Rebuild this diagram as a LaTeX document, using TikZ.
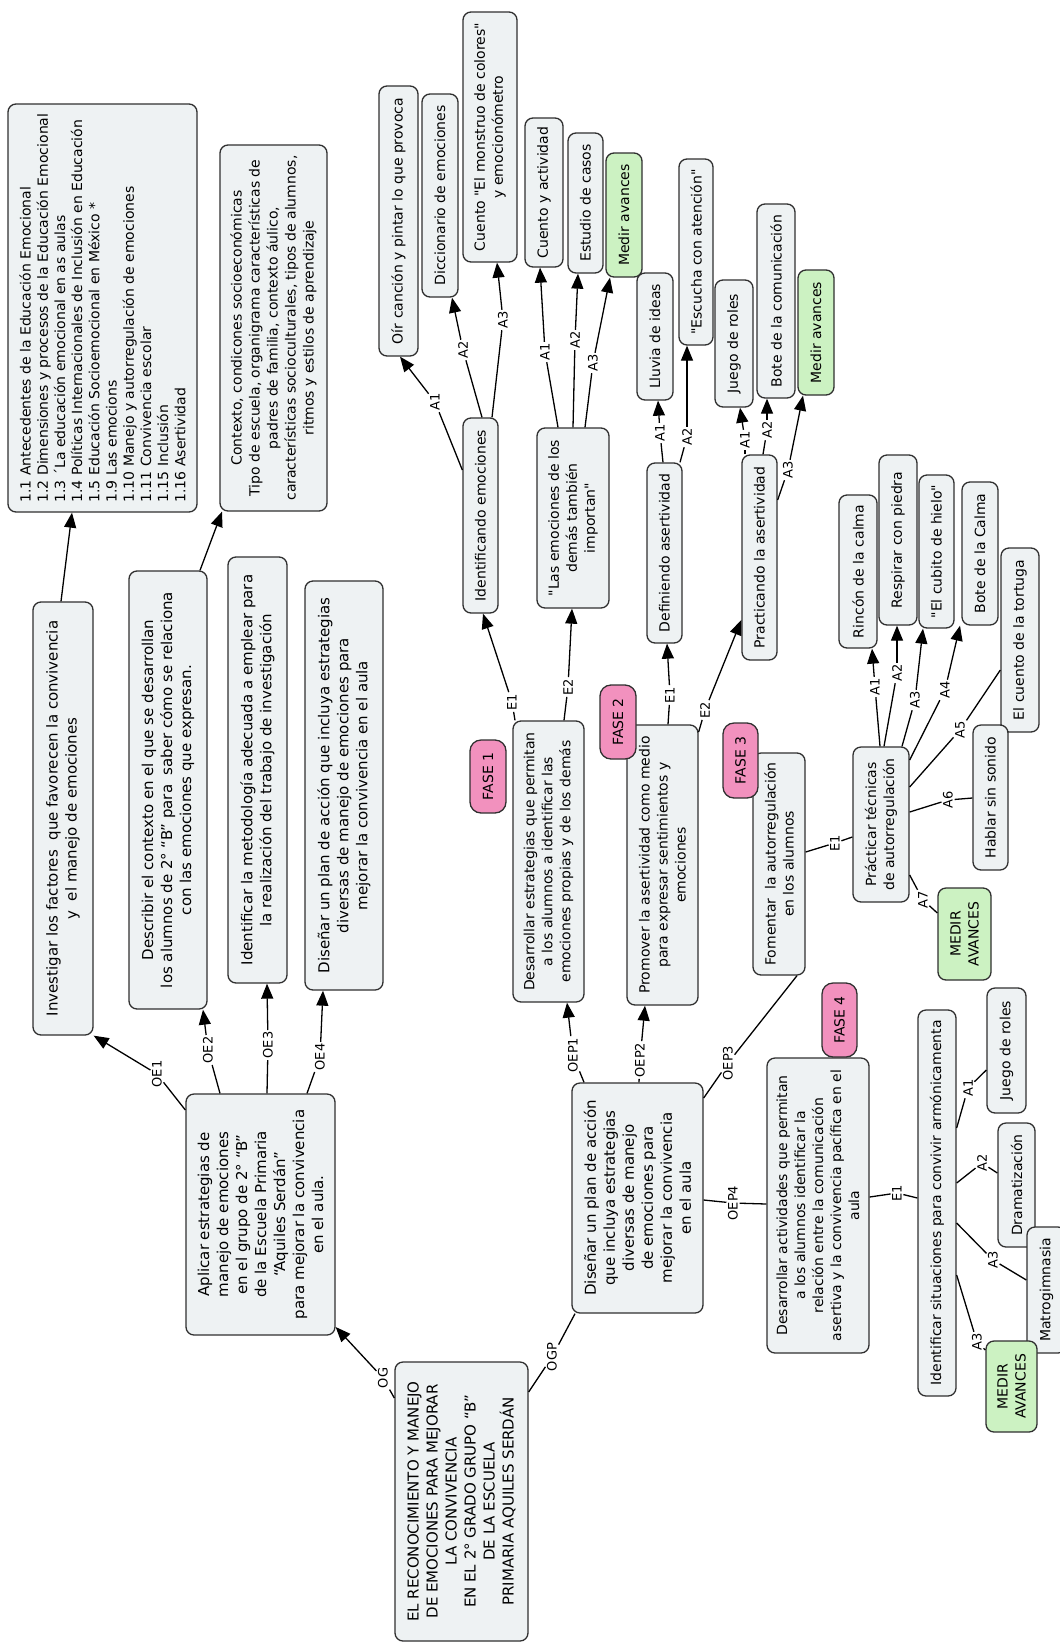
\documentclass[tikz,border=0pt]{standalone}
\usepackage{fontspec}
\setmainfont{DejaVu Sans}
\usetikzlibrary{arrows.meta}
\definecolor{cfill}{HTML}{EEF2F3}
\definecolor{mfill}{HTML}{CCF2C2}
\definecolor{ffill}{HTML}{F291BE}
\definecolor{cline}{HTML}{303030}
\newcommand{\qt}{\textquotedbl}
\begin{document}
\begin{tikzpicture}[x=1pt,y=-1pt,line width=1.3pt,
  concept/.style={draw=cline,fill=cfill,rounded corners=8pt,rotate=90,align=center,inner sep=2pt,font=\fontsize{14}{18}\selectfont},
  big/.style={font=\fontsize{15}{19}\selectfont},
  medir/.style={concept,fill=mfill},
  fase/.style={concept,fill=ffill,rounded corners=11pt},
  link/.style={rotate=90,fill=white,inner sep=1pt,font=\fontsize{13}{13}\selectfont},
  dims/.style 2 args={minimum width=#1pt,minimum height=#2pt},
  arr/.style={-{Triangle[length=15pt,width=12pt]}}]
\path[use as bounding box,fill=white] (0,0) rectangle (1060,1644);
\node[concept,big,dims={279}{133}] (cid0) at (461.5,1501.5) {EL RECONOCIMIENTO Y MANEJO\\DE EMOCIONES PARA MEJORAR\\LA CONVIVENCIA\\EN EL 2° GRADO GRUPO “B”\\DE LA ESCUELA\\PRIMARIA AQUILES SERDÁN};
\node[concept,big,dims={241}{149}] (cid1) at (260.5,1214.5) {Aplicar estrategias de\\manejo de emociones\\en el grupo de 2° “B”\\de la Escuela Primaria\\“Aquiles Serdán”\\para mejorar la convivencia\\en el aula.};
\node[link] (lid0) at (383,1378) {OG};
\draw[](cid0.north |- 0,1398) -- (lid0);
\draw[arr](lid0) -- (cid1.south |- 0,1327);
\node[concept,big,dims={433}{60}] (cid2) at (63,818.5) {Investigar los factores \ que favorecen la convivencia\\y \ el manejo de emociones};
\node[concept,big,dims={438}{78}] (cid3) at (168,790) {Describir el contexto en el que se desarrollan\\los alumnos de 2° “B” para \ saber cómo se relaciona\\con las emociones que expresan.};
\node[concept,big,dims={426}{59}] (cid4) at (257.5,770) {Identificar la metodología adecuada a emplear para\\la realización del trabajo de investigación};
\node[concept,big,dims={409}{78}] (cid5) at (344,785.5) {Diseñar un plan de acción que incluya estrategias\\diversas de manejo de emociones para\\mejorar la convivencia en el aula};
\node[link] (lid1) at (157,1074) {OE1};
\node[link] (lid2) at (208,1050) {OE2};
\node[link] (lid3) at (268,1045) {OE3};
\node[link] (lid4) at (320,1057) {OE4};
\draw[](cid1.north |- 0,1110) -- (lid1);
\draw[arr](lid1) -- (cid2.south west);
\draw[](cid1.east -| 220,0) -- (lid2);
\draw[arr](lid2) -- (cid3.west -| 203,0);
\draw[](cid1.east -| 267,0) -- (lid3);
\draw[arr](lid3) -- (cid4.west -| 267,0);
\draw[](cid1.east -| 307,0) -- (lid4);
\draw[arr](lid4) -- (cid5.west -| 323,0);
\node[concept,dims={408}{189},align=left,font=\fontsize{14}{17.2}\selectfont] (cid6) at (102.5,308) {1.1 Antecedentes de la Educación Emocional\\1.2 Dimensiones y procesos de la Educación Emocional\\1.3 ´La educación emocional en as aulas\\1.4 Políticas Internacionales de Inclusión en Educación\\1.5 Educación Socioemocional en México *\\1.9 Las emocions\\1.10 Manejo y autorregulación de emociones\\1.11 Convivencia escolar\\1.15 Inclusión\\1.16 Asertividad};
\node[concept,dims={366}{107}] (cid7) at (273.5,328) {Contexto, condicones socioeconómicas\\Tipo de escuela, organigrama características de\\padres de familia, contexto áulico,\\características socioculturales, tipos de alumnos,\\ritmos y estilos de aprendizaje};
\draw[arr](cid2.east -| 61,0) -- (cid6.west -| 72,0);
\draw[arr](cid3.east -| 200,0) -- (cid7.west -| 222,0);
\node[concept,big,dims={230}{131}] (cid8) at (637.5,1198) {Diseñar un plan de acción\\que incluya estrategias\\diversas de manejo\\de emociones para\\mejorar la convivencia\\en el aula};
\node[link] (lid5) at (552,1357) {OGP};
\draw[](cid0.south |- 0,1392) -- (lid5);
\draw[](lid5) -- (cid8.west -| 575,0);
\node[concept,dims={281}{71}] (cid9) at (548.5,861.5) {Desarrollar estrategias que permitan\\a los alumnos a identificar las\\emociones propias y de los demás};
\node[concept,dims={280}{71}] (cid10) at (662.5,865) {Promover la asertividad como medio\\para expresar sentimientos y\\emociones};
\node[concept,dims={222}{52}] (cid11) at (779,864) {Fomentar \ la autorregulación\\en los alumnos};
\node[concept,dims={295}{102}] (cid12) at (818,1205.5) {Desarrollar actividades que permitan\\a los alumnos identificar la\\relación entre la comunicación\\asertiva y la convivencia pacífica en el\\aula};
\node[link] (lid6) at (573,1055) {OEP1};
\node[link] (lid7) at (640,1060) {OEP2};
\node[link] (lid8) at (728,1063) {OEP3};
\node[link] (lid9) at (733,1203) {OEP4};
\draw[](cid8.east -| 584,0) -- (lid6);
\draw[arr](lid6) -- (cid9.west -| 567,0);
\draw[](cid8.east -| 639,0) -- (lid7);
\draw[arr](lid7) -- (cid10.west -| 645,0);
\draw[](cid8.south |- 0,1098) -- (lid8);
\draw[](lid8) -- (cid11.west -| 797,0);
\draw[](cid8.south |- 0,1200) -- (lid9);
\draw[](lid9) -- (cid12.north |- 0,1204);
\node[fase,dims={73}{36}] (fid1) at (488,776.5) {FASE 1};
\node[fase,dims={74}{36}] (fid2) at (618,722) {FASE 2};
\node[fase,dims={75}{35}] (fid3) at (740.5,760.5) {FASE 3};
\node[fase,dims={74}{35}] (fid4) at (839.5,1020) {FASE 4};
\node[concept,dims={195}{35}] (cid13) at (480.5,515.5) {Identificando emociones};
\node[concept,dims={180}{72}] (cid14) at (573,518) {\qt Las emociones de los\\demás también\\importan\qt};
\node[link] (lid10) at (512,702) {E1};
\node[link] (lid11) at (568,687) {E2};
\draw[](cid9.east -| 515,0) -- (lid10);
\draw[arr](lid10) -- (cid13.west -| 483,0);
\draw[](cid9.east -| 564,0) -- (lid11);
\draw[arr](lid11) -- (cid14.west -| 572,0);
\node[concept,dims={270}{39}] (cid15) at (398.5,221) {Oír canción y pintar lo que provoca};
\node[concept,dims={203}{36}] (cid16) at (440,195.5) {Diccionario de emociones};
\node[concept,dims={250}{54}] (cid17) at (490,137) {Cuento \qt El monstruo de colores\qt\\y emocionómetro};
\node[link] (lid12) at (435,402) {A1};
\node[link] (lid13) at (463,350) {A2};
\node[link] (lid14) at (503,320) {A3};
\draw[](cid13.north |- 0,470) -- (lid12);
\draw[arr](lid12) -- (cid15.west -| 400,0);
\draw[](cid13.east -| 482,0) -- (lid13);
\draw[arr](lid13) -- (cid16.west -| 452,0);
\draw[](cid13.east -| 492,0) -- (lid14);
\draw[arr](lid14) -- (cid17.west -| 497,0);
\node[concept,dims={149}{38}] (cid18) at (544,192.5) {Cuento y actividad};
\node[concept,dims={140}{35}] (cid19) at (585.5,203) {Estudio de casos};
\node[medir,dims={124}{36}] (cid20) at (624,215) {Medir avances};
\node[link] (lid15) at (545,352) {A1};
\node[link] (lid16) at (575,340) {A2};
\node[link] (lid17) at (593,363) {A3};
\draw[](cid14.east -| 558,0) -- (lid15);
\draw[arr](lid15) -- (cid18.west -| 540,0);
\draw[](cid14.east -| 573,0) -- (lid16);
\draw[arr](lid16) -- (cid19.west -| 578,0);
\draw[](cid14.east -| 585,0) -- (lid17);
\draw[arr](lid17) -- (cid20.west -| 610,0);
\node[concept,dims={180}{35}] (cid21) at (664.5,553) {Definiendo asertividad};
\node[concept,dims={205}{35}] (cid22) at (759.5,557.5) {Practicando la asertividad};
\node[link] (lid18) at (670,695) {E1};
\node[link] (lid19) at (705,710) {E2};
\draw[](cid10.east -| 668,0) -- (lid18);
\draw[arr](lid18) -- (cid21.west -| 667,0);
\draw[](cid10.south |- 0,732) -- (lid19);
\draw[arr](lid19) -- (cid22.north |- 0,620);
\node[concept,dims={127}{36}] (cid23) at (655,336.5) {Lluvia de ideas};
\node[concept,dims={186}{34}] (cid24) at (696,252) {\qt Escucha con atención\qt};
\node[link] (lid20) at (660,433) {A1};
\node[link] (lid21) at (687,437) {A2};
\draw[](cid21.east -| 663,0) -- (lid20);
\draw[arr](lid20) -- (cid23.west -| 658,0);
\draw[](cid21.east -| 680,0) -- (lid21);
\draw[arr](lid21) -- (cid24.west -| 687,0);
\node[concept,dims={127}{38}] (cid25) at (734,343.5) {Juego de roles};
\node[concept,dims={194}{38}] (cid26) at (776,301) {Bote de la comunicación};
\node[medir,dims={125}{36}] (cid27) at (816,332.5) {Medir avances};
\node[link] (lid22) at (745,440) {A1};
\node[link] (lid23) at (767,430) {A2};
\node[link] (lid24) at (788,470) {A3};
\draw[](cid22.east -| 745,0) -- (lid22);
\draw[arr](lid22) -- (cid25.west -| 740,0);
\draw[](cid22.east -| 763,0) -- (lid23);
\draw[arr](lid23) -- (cid26.west -| 767,0);
\draw[](cid22.south |- 0,500) -- (lid24);
\draw[arr](lid24) -- (cid27.west -| 803,0);
\node[concept,dims={155}{56}] (cid28) at (881,824.5) {Prácticar técnicas\\de autorregulación};
\node[link] (lid25) at (835,843) {E1};
\draw[](cid11.south |- 0,852) -- (lid25);
\draw[](lid25) -- (cid28.north |- 0,837);
\node[concept,dims={153}{38}] (cid29) at (858,571.5) {Rincón de la calma};
\node[concept,dims={170}{38}] (cid30) at (898,540) {Respirar con piedra};
\node[concept,dims={153}{35}] (cid31) at (936.5,551.5) {\qt El cubito de hielo\qt};
\node[concept,dims={143}{36}] (cid32) at (980,553.5) {Bote de la Calma};
\node[concept,dims={184}{38}] (cid33) at (1020,640) {El cuento de la tortuga};
\node[concept,dims={145}{35}] (cid34) at (990.5,797.5) {Hablar sin sonido};
\node[medir,dims={92}{53}] (cid35) at (964.5,934) {MEDIR\\AVANCES};
\node[link] (lid26) at (875,687) {A1};
\node[link] (lid27) at (897,673) {A2};
\node[link] (lid28) at (915,700) {A3};
\node[link] (lid29) at (945,690) {A4};
\node[link] (lid30) at (960,730) {A5};
\node[link] (lid31) at (948,800) {A6};
\node[link] (lid32) at (923,900) {A7};
\draw[](cid28.east -| 880,0) -- (lid26);
\draw[arr](lid26) -- (cid29.west -| 872,0);
\draw[](cid28.east -| 884,0) -- (lid27);
\draw[arr](lid27) -- (cid30.west -| 897,0);
\draw[](cid28.east -| 902,0) -- (lid28);
\draw[arr](lid28) -- (cid31.west -| 923,0);
\draw[](cid28.south |- 0,760) -- (lid29);
\draw[arr](lid29) -- (cid32.west -| 960,0);
\draw[](cid28.south |- 0,787) -- (lid30);
\draw[](lid30) -- (cid33.north |- 0,670);
\draw[](cid28.south |- 0,812) -- (lid31);
\draw[](lid31) -- (cid34.north |- 0,798);
\draw[](cid28.south |- 0,875) -- (lid32);
\draw[](lid32) -- (cid35.north |- 0,913);
\node[concept,dims={386}{38}] (cid36) at (937,1203) {Identificar situaciones para convivir armónicamenta};
\node[link] (lid33) at (897,1193) {E1};
\draw[](cid12.south |- 0,1197) -- (lid33);
\draw[](lid33) -- (cid36.north |- 0,1198);
\node[concept,dims={125}{39}] (cid37) at (1006.5,1050.5) {Juego de roles};
\node[concept,dims={124}{37}] (cid38) at (1016.5,1185) {Dramatización};
\node[concept,dims={126}{39}] (cid39) at (1046.5,1290) {Matrogimnasia};
\node[medir,dims={91}{51}] (cid40) at (1011.5,1386.5) {MEDIR\\AVANCES};
\node[link] (lid34) at (968,1088) {A1};
\node[link] (lid35) at (982,1163) {A2};
\node[link] (lid36) at (993,1260) {A3};
\node[link] (lid37) at (977,1342) {A3};
\draw[](cid36.south |- 0,1128) -- (lid34);
\draw[](lid34) -- (cid37.north |- 0,1070);
\draw[](cid36.south |- 0,1183) -- (lid35);
\draw[](lid35) -- (cid38.north |- 0,1173);
\draw[](cid36.south |- 0,1223) -- (lid36);
\draw[](lid36) -- (cid39.north |- 0,1280);
\draw[](cid36.south |- 0,1275) -- (lid37);
\draw[](lid37) -- (cid40.north |- 0,1350);
\end{tikzpicture}
\end{document}
